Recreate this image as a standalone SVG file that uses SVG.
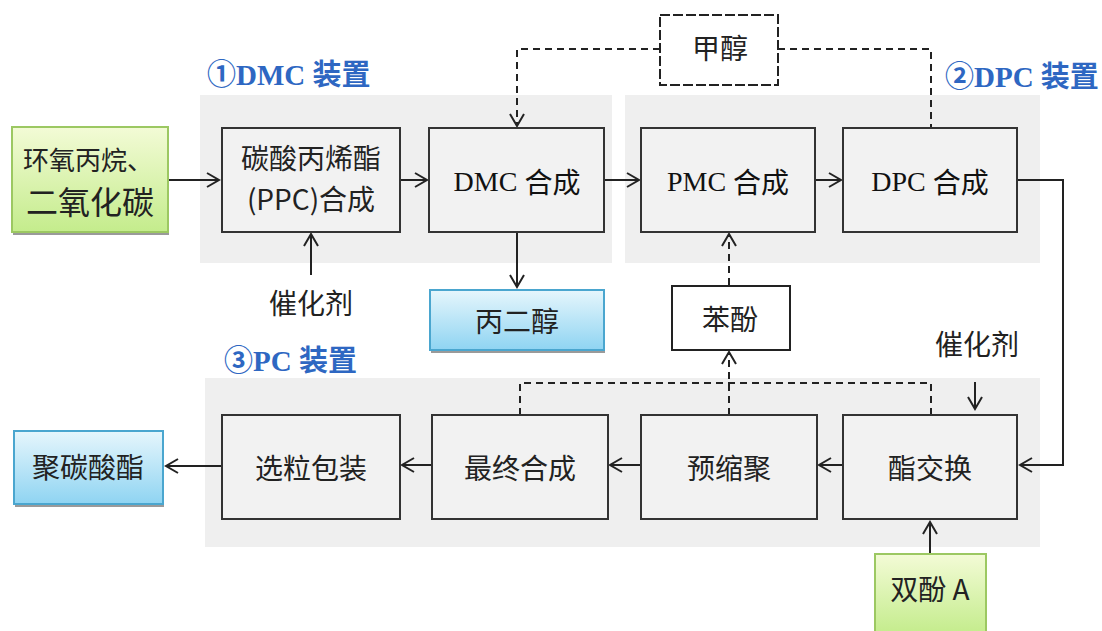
<svg xmlns="http://www.w3.org/2000/svg" width="1102" height="631" viewBox="0 0 1102 631">
<defs>
<linearGradient id="gGreen" x1="0" y1="0" x2="0" y2="1">
<stop offset="0" stop-color="#f3fbd6"/>
<stop offset="1" stop-color="#c4ec8c"/>
</linearGradient>
<linearGradient id="gBlue" x1="0" y1="0" x2="0" y2="1">
<stop offset="0" stop-color="#e6f6fc"/>
<stop offset="1" stop-color="#8fd4f2"/>
</linearGradient>
<marker id="arr" markerWidth="20" markerHeight="20" refX="14" refY="10" orient="auto" markerUnits="userSpaceOnUse">
<path d="M2,3 L14,10 L2,17" fill="none" stroke="#222" stroke-width="2"/>
</marker>
</defs>
<style>
.panel{fill:#efefef}
.box{fill:#f2f2f2;stroke:#333;stroke-width:2}
.green{fill:url(#gGreen);stroke:#9cc862;stroke-width:2}
.blue{fill:url(#gBlue);stroke:#4aa6cf;stroke-width:2}
.shadow{fill:#9a9a9a}
.t{font-family:"Noto Sans CJK SC","Liberation Sans",sans-serif;font-size:28px;fill:#222;text-anchor:middle;dominant-baseline:central}
.ts{font-family:"Liberation Serif","Noto Sans CJK SC",serif;font-size:28px;fill:#111;text-anchor:middle;dominant-baseline:central}
.cj{font-family:"Noto Sans CJK SC",sans-serif}
.title{font-family:"Liberation Serif","Noto Sans CJK SC",serif;font-size:29px;font-weight:bold;fill:#2e67c2;dominant-baseline:central}
.ln{fill:none;stroke:#222;stroke-width:2}
.dash{fill:none;stroke:#222;stroke-width:2;stroke-dasharray:7,5}
</style>

<g id="panels">
<rect class="panel" x="200" y="95" width="412" height="168"/>
<rect class="panel" x="625" y="95" width="415" height="168"/>
<rect class="panel" x="205" y="378" width="835" height="169"/>
</g>

<g id="titles">
<text class="title" x="207" y="75">①DMC 装置</text>
<text class="title" x="945" y="77">②DPC 装置</text>
<text class="title" x="224" y="361">③PC 装置</text>
</g>

<g id="connectors">
<line class="ln" x1="168" y1="180" x2="219" y2="180" marker-end="url(#arr)"/>
<line class="ln" x1="400" y1="180" x2="427" y2="180" marker-end="url(#arr)"/>
<line class="ln" x1="604" y1="180" x2="639" y2="180" marker-end="url(#arr)"/>
<line class="ln" x1="815" y1="180" x2="841" y2="180" marker-end="url(#arr)"/>
<polyline class="ln" points="1017,180 1063,180 1063,465 1020,465" marker-end="url(#arr)"/>
<line class="ln" x1="311" y1="275" x2="311" y2="234" marker-end="url(#arr)"/>
<line class="ln" x1="517" y1="232" x2="517" y2="287" marker-end="url(#arr)"/>
<polyline class="dash" points="660,49 517,49 517,126" marker-end="url(#arr)"/>
<polyline class="dash" points="778,49 931,49 931,128"/>
<line class="dash" x1="729" y1="285" x2="729" y2="234" marker-end="url(#arr)"/>
<polyline class="dash" points="520,415 520,383 931,383 931,415"/>
<line class="dash" x1="729" y1="415" x2="729" y2="352" marker-end="url(#arr)"/>
<line class="ln" x1="975" y1="382" x2="975" y2="409" marker-end="url(#arr)"/>
<line class="ln" x1="930" y1="553" x2="930" y2="522" marker-end="url(#arr)"/>
<line class="ln" x1="843" y1="465" x2="819" y2="465" marker-end="url(#arr)"/>
<line class="ln" x1="641" y1="465" x2="610" y2="465" marker-end="url(#arr)"/>
<line class="ln" x1="432" y1="465" x2="402" y2="465" marker-end="url(#arr)"/>
<line class="ln" x1="222" y1="466" x2="166" y2="466" marker-end="url(#arr)"/>
</g>

<g id="n-raw">
<rect class="shadow" x="13" y="230" width="156" height="5"/>
<rect class="green" x="12" y="127" width="156" height="105"/>
<text class="t" x="88" y="158" style="font-size:26px">环氧丙烷、</text>
<text class="t" x="90" y="200" style="font-size:32px">二氧化碳</text>
</g>

<g id="n-ppc">
<rect class="box" x="222" y="128" width="178" height="104"/>
<text class="t" x="311" y="157">碳酸丙烯酯</text>
<text class="t" x="311" y="198">(PPC)合成</text>
</g>

<g id="n-dmc">
<rect class="box" x="429" y="128" width="175" height="104"/>
<text class="ts" x="517" y="181">DMC <tspan class="cj">合成</tspan></text>
</g>

<g id="n-pmc">
<rect class="box" x="641" y="128" width="174" height="104"/>
<text class="ts" x="728" y="181">PMC <tspan class="cj">合成</tspan></text>
</g>

<g id="n-dpc">
<rect class="box" x="843" y="128" width="174" height="104"/>
<text class="ts" x="930" y="181">DPC <tspan class="cj">合成</tspan></text>
</g>

<g id="n-methanol">
<rect x="660" y="15" width="118" height="70" fill="#fff" stroke="#222" stroke-width="2" stroke-dasharray="10,3"/>
<text class="t" x="720" y="47">甲醇</text>
</g>

<g id="n-cat1">
<text class="t" x="311" y="302">催化剂</text>
</g>

<g id="n-pg">
<rect class="shadow" x="431" y="348" width="174" height="5"/>
<rect class="blue" x="430" y="290" width="174" height="60"/>
<text class="t" x="517" y="320">丙二醇</text>
</g>

<g id="n-phenol">
<rect x="672" y="286" width="118" height="64" fill="#fff" stroke="#222" stroke-width="2"/>
<text class="t" x="730" y="318">苯酚</text>
</g>

<g id="n-cat2">
<text class="t" x="977" y="343">催化剂</text>
</g>

<g id="n-pack">
<rect class="box" x="222" y="415" width="178" height="104"/>
<text class="t" x="311" y="467">选粒包装</text>
</g>

<g id="n-final">
<rect class="box" x="432" y="415" width="176" height="104"/>
<text class="t" x="520" y="467">最终合成</text>
</g>

<g id="n-pre">
<rect class="box" x="641" y="415" width="176" height="104"/>
<text class="t" x="729" y="467">预缩聚</text>
</g>

<g id="n-trans">
<rect class="box" x="843" y="415" width="174" height="104"/>
<text class="t" x="930" y="467">酯交换</text>
</g>

<g id="n-pc">
<rect class="shadow" x="15" y="502" width="149" height="5"/>
<rect class="blue" x="14" y="431" width="149" height="73"/>
<text class="t" x="88" y="466">聚碳酸酯</text>
</g>

<g id="n-bpa">
<rect class="green" x="875" y="554" width="111" height="80"/>
<text class="t" x="930" y="588">双酚 A</text>
</g>
</svg>
